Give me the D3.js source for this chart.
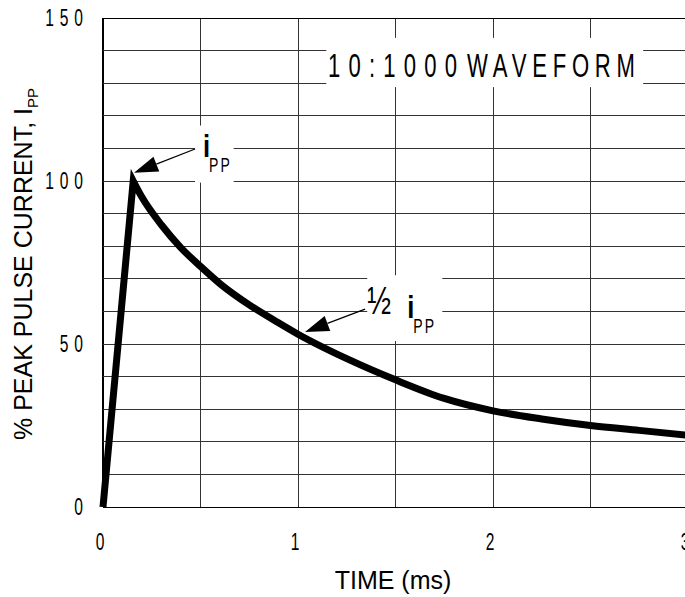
<!DOCTYPE html>
<html>
<head>
<meta charset="utf-8">
<script src="https://cdn.jsdelivr.net/npm/d3@7"></script>
<style>
  html, body { margin: 0; padding: 0; background: #fff; }
  svg { display: block; }
</style>
</head>
<body>
<svg id="chart" width="685" height="597"></svg>
<script>
// ---- data ----
const timeMs = [0, 0.155, 0.2, 0.3, 0.4, 0.5, 0.6, 0.75, 0.9, 1.0, 1.25, 1.5, 1.75, 2.0, 2.25, 2.5, 2.75, 3.0];
const peakPct = [0, 100, 95, 86.5, 79.5, 73.8, 68.5, 62, 56.5, 53, 45.5, 39, 33.3, 29.5, 27, 25, 23.5, 22];
const xTickLabels = [0, 1, 2, 3];
const yTickLabels = [0, 50, 100, 150];
const xGridStep = 0.5;
const yGridStep = 10;
const titleParts = ["10:1000", "WAVEFORM"];
const xTitle = "TIME (ms)";
const yTitle = "% PEAK PULSE CURRENT, I";
const yTitleSub = "PP";

// annotations in data units
const peakNote = { tip: [0.159, 102.5], from: [0.472, 109.8], text: [0.523, 107.5] };
const halfNote = { tip: [1.036, 53.7], from: [1.344, 60.7], text: [1.36, 59.5] };

// ---- layout ----
const svg = d3.select("#chart");
const x = d3.scaleLinear().domain([0, 3]).range([103, 688]);
const y = d3.scaleLinear().domain([0, 150]).range([507, 18]);
const stylFont = "'Liberation Sans', Arial, sans-serif";

// narrow (horizontally compressed) text helper
function narrow(parent, px, py, str, size, sx, anchor, spacing, extra) {
  const g = parent.append("g").attr("transform", `translate(${px},${py}) scale(${sx},1)`);
  const t = g.append("text").attr("x", 0).attr("y", 0)
    .attr("font-family", stylFont).attr("font-size", size)
    .attr("text-anchor", anchor || "start")
    .attr("letter-spacing", spacing || 0)
    .attr("fill", "#000")
    .text(str);
  if (extra) extra(t);
  return t;
}

// grid
const xGrid = d3.range(0, 3 + 1e-9, xGridStep);
const yGrid = d3.range(0, 150 + 1e-9, yGridStep);
const grid = svg.append("g").attr("shape-rendering", "crispEdges");
grid.selectAll("line.v").data(xGrid).join("line")
  .attr("x1", d => x(d)).attr("x2", d => x(d))
  .attr("y1", y(0)).attr("y2", y(150))
  .attr("stroke", d => d === 0 ? "#000" : "#333")
  .attr("stroke-width", d => d === 0 ? 2 : 1);
grid.selectAll("line.h").data(yGrid).join("line")
  .attr("x1", x(0)).attr("x2", x(3))
  .attr("y1", d => y(d)).attr("y2", d => y(d))
  .attr("stroke", d => (d === 0 || d === 150) ? "#000" : "#333")
  .attr("stroke-width", 1);

// white boxes behind annotations
function box(x0, x1, y0, y1) {
  svg.append("rect")
    .attr("x", x(x0)).attr("y", y(y1))
    .attr("width", x(x1) - x(x0)).attr("height", y(y0) - y(y1))
    .attr("fill", "#fff");
}
box(1.145, 2.77, 128.8, 143.9);   // title box
box(0.472, 0.67, 99.5, 117);       // peak label box
box(1.355, 1.74, 50.9, 71.1);      // half label box

// curve: linear rise, smooth decay
const decay = timeMs.slice(1).map((t, i) => [t, peakPct[i + 1]]);
const decayPath = d3.line().x(d => x(d[0])).y(d => y(d[1])).curve(d3.curveMonotoneX)(decay);
svg.append("path")
  .attr("d", `M${x(timeMs[0])},${y(peakPct[0])}L` + decayPath.slice(1))
  .attr("fill", "none")
  .attr("stroke", "#000")
  .attr("stroke-width", 7)
  .attr("stroke-linejoin", "miter")
  .attr("stroke-miterlimit", 10);

// arrows
function arrow(note) {
  const tx = x(note.tip[0]), ty = y(note.tip[1]);
  const fx = x(note.from[0]), fy = y(note.from[1]);
  const dx = fx - tx, dy = fy - ty, len = Math.hypot(dx, dy);
  const ux = dx / len, uy = dy / len;
  const hl = 24, hw = 8;
  const bx = tx + ux * hl, by = ty + uy * hl;
  svg.append("line").attr("x1", fx).attr("y1", fy).attr("x2", bx).attr("y2", by)
    .attr("stroke", "#000").attr("stroke-width", 1.2);
  svg.append("path")
    .attr("d", `M${tx},${ty}L${bx - uy * hw},${by + ux * hw}L${bx + uy * hw},${by - ux * hw}Z`)
    .attr("fill", "#000");
}
arrow(peakNote);
arrow(halfNote);

// annotation labels
function ippLabel(px, py) {
  narrow(svg, px, py, "i", 32, 0.8, "start", 0, t => t.attr("font-weight", "bold"));
  narrow(svg, px + 6, py + 15, "PP", 20, 0.7, "start", 3);
}
ippLabel(x(peakNote.text[0]) - 2, y(peakNote.text[1]));
narrow(svg, x(halfNote.text[0]) - 1, y(halfNote.text[1]) + 1, "½", 38, 0.75, "start", 0);
ippLabel(x(halfNote.text[0]) + 39, y(halfNote.text[1]) + 5);

// title
narrow(svg, 328, 77, titleParts[0], 34, 0.65, "start", 0, t => t.attr("textLength", 129 / 0.65).attr("lengthAdjust", "spacing"));
narrow(svg, 467, 77, titleParts[1], 34, 0.65, "start", 0, t => t.attr("textLength", 168 / 0.65).attr("lengthAdjust", "spacing"));

// tick labels
xTickLabels.forEach(d => narrow(svg, x(d) - 3, 550, String(d), 24, 0.65, "middle", 0));
yTickLabels.forEach(d => narrow(svg, 83, y(d) + 8, String(d), 24, 0.65, "end", 0,
  t => t.attr("letter-spacing", 9).attr("x", 9)));

// axis titles
svg.append("text")
  .attr("x", 393).attr("y", 589)
  .attr("text-anchor", "middle")
  .attr("font-family", "'Liberation Sans', Arial, sans-serif").attr("font-size", 25)
  .text(xTitle);
const yt = svg.append("text")
  .attr("transform", "translate(32,264) rotate(-90)")
  .attr("text-anchor", "middle")
  .attr("font-family", "'Liberation Sans', Arial, sans-serif").attr("font-size", 25);
yt.append("tspan").text(yTitle);
yt.append("tspan").attr("font-size", 15).attr("dy", 6).text(yTitleSub);
</script>
</body>
</html>
